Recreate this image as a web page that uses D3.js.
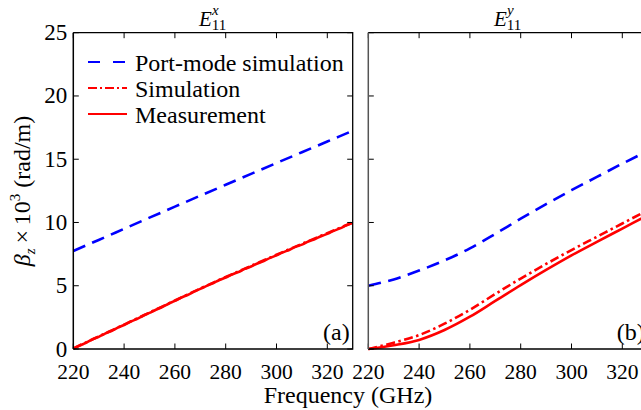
<!DOCTYPE html>
<html>
<head>
<meta charset="utf-8">
<script src="https://cdn.jsdelivr.net/npm/d3@7/dist/d3.min.js"></script>
<style>
  html, body { margin: 0; padding: 0; background: #fff; }
  svg text { font-family: "Liberation Serif", Times, "Times New Roman", "DejaVu Serif", serif; }
</style>
</head>
<body>
<svg id="chart" width="641" height="410"></svg>
<script>
// Frequency ticks (GHz) and propagation-constant ticks (x10^3 rad/m)
const xTicks = [220, 240, 260, 280, 300, 320];
const yTicks = [0, 5, 10, 15, 20, 25];
const freqDomain = [220, 330];
const betaDomain = [0, 25];

// E11^x mode
const freqA = [220, 230, 240, 250, 260, 270, 280, 290, 300, 310, 320, 330];
const portA = [7.75, 8.62, 9.5, 10.38, 11.25, 12.12, 12.98, 13.84, 14.7, 15.55, 16.4, 17.25];
const simA  = [0.05, 0.99, 1.93, 2.88, 3.83, 4.78, 5.69, 6.57, 7.45, 8.31, 9.16, 10.0];
const measFreqA = [220, 222.5, 225, 227.5, 230, 232.5, 235, 237.5, 240, 242.5, 245, 247.5, 250,
  252.5, 255, 257.5, 260, 262.5, 265, 267.5, 270, 272.5, 275, 277.5, 280, 282.5, 285, 287.5, 290,
  292.5, 295, 297.5, 300, 302.5, 305, 307.5, 310, 312.5, 315, 317.5, 320, 322.5, 325, 327.5, 330];
const measA = [0.0, 0.27, 0.49, 0.76, 0.96, 1.22, 1.42, 1.69, 1.9, 2.16, 2.37, 2.63, 2.85,
  3.1, 3.32, 3.58, 3.8, 4.06, 4.27, 4.53, 4.75, 4.99, 5.2, 5.45, 5.65, 5.89, 6.08, 6.33, 6.52,
  6.76, 6.96, 7.2, 7.4, 7.64, 7.83, 8.07, 8.25, 8.5, 8.68, 8.91, 9.1, 9.34, 9.53, 9.77, 9.97];

// E11^y mode
const freqB = [220, 230, 240, 250, 260, 270, 280, 290, 300, 310, 320, 330];
const portB = [5.0, 5.5, 6.2, 7.0, 7.95, 9.1, 10.3, 11.45, 12.55, 13.6, 14.65, 15.65];
const simB  = [0.0, 0.5, 1.1, 2.0, 3.1, 4.35, 5.57, 6.72, 7.82, 8.87, 9.92, 10.97];
const measB = [0.0, 0.3, 0.72, 1.5, 2.55, 3.8, 5.05, 6.25, 7.4, 8.47, 9.52, 10.57];

const legendLabels = ["Port-mode simulation", "Simulation", "Measurement"];

const BLUE = "#0000ff", RED = "#ff0000";
const DASH = "13,7.5", DASHDOT = "9,3.5,2.5,3.5";
const SERIF = "'Liberation Serif', Times, 'Times New Roman', 'DejaVu Serif', serif";

const svg = d3.select("#chart");
svg.append("rect").attr("width", 641).attr("height", 410).attr("fill", "#fff");

const addText = (sel) => sel.append("text").attr("font-family", SERIF).attr("fill", "#000");

const plotTop = 32.7, plotBottom = 349;
const y = d3.scaleLinear().domain(betaDomain).range([plotBottom, plotTop]);

function panel(x0, x1, title, label, series, showYLabels, leftEdgeColor) {
  const x = d3.scaleLinear().domain(freqDomain).range([x0, x1]);
  const g = svg.append("g");

  const line = (xs, ys) => d3.line()
    .x((d, i) => x(xs[i])).y(d => y(d))
    .curve(d3.curveMonotoneX)(ys);

  series.forEach(s => {
    g.append("path").attr("d", line(s.x, s.y))
      .attr("fill", "none").attr("stroke", s.color).attr("stroke-width", 2.6)
      .attr("stroke-dasharray", s.dash || null)
      .attr("stroke-linejoin", "round");
  });

  // Inward ticks on all four sides
  const tl = 5.5;
  xTicks.forEach(t => {
    g.append("line").attr("x1", x(t)).attr("x2", x(t)).attr("y1", plotBottom).attr("y2", plotBottom - tl)
      .attr("stroke", "#000").attr("stroke-width", 1);
    g.append("line").attr("x1", x(t)).attr("x2", x(t)).attr("y1", plotTop).attr("y2", plotTop + tl)
      .attr("stroke", "#000").attr("stroke-width", 1);
    addText(g).attr("x", x(t)).attr("y", 379).attr("text-anchor", "middle")
      .attr("font-size", 21.5).text(t);
  });
  yTicks.forEach(t => {
    g.append("line").attr("x1", x0).attr("x2", x0 + tl).attr("y1", y(t)).attr("y2", y(t))
      .attr("stroke", "#000").attr("stroke-width", 1);
    g.append("line").attr("x1", x1).attr("x2", x1 - tl).attr("y1", y(t)).attr("y2", y(t))
      .attr("stroke", "#000").attr("stroke-width", 1);
    if (showYLabels) {
      addText(g).attr("x", x0 - 6).attr("y", y(t) + 7.5).attr("text-anchor", "end")
        .attr("font-size", 23).text(t);
    }
  });

  // Frame: top, right, bottom in black; left edge drawn separately
  g.append("path")
    .attr("d", `M${x0},${plotTop}H${x1}V${plotBottom}H${x0}`)
    .attr("fill", "none").attr("stroke", "#000").attr("stroke-width", 1.3);
  g.append("line").attr("x1", x0).attr("x2", x0).attr("y1", plotTop).attr("y2", plotBottom)
    .attr("stroke", leftEdgeColor).attr("stroke-width", 1.5);

  // Mode title
  const cx = (x0 + x1) / 2;
  const tt = addText(g).attr("x", cx - 14).attr("y", 26).attr("font-size", 21);
  tt.append("tspan").attr("font-style", "italic").text("E");
  tt.append("tspan").attr("font-size", 15).attr("dy", 4).text("11");
  tt.append("tspan").attr("font-size", 15).attr("font-style", "italic")
    .attr("x", cx - 1).attr("dy", -15).text(title);

  // Panel tag
  addText(g).attr("x", x1 - 3).attr("y", 340).attr("text-anchor", "end")
    .attr("font-size", 24).text(label);
  return x;
}

panel(73.3, 352.7, "x", "(a)", [
  { x: freqA, y: portA, color: BLUE, dash: DASH },
  { x: measFreqA, y: measA, color: RED },
  { x: freqA, y: simA, color: RED, dash: DASHDOT }
], true, "#000");

panel(368.3, 647.7, "y", "(b)", [
  { x: freqB, y: portB, color: BLUE, dash: DASH },
  { x: freqB, y: simB, color: RED, dash: DASHDOT },
  { x: freqB, y: measB, color: RED }
], false, "#555");

// Legend
const legendStyles = [
  { color: BLUE, dash: "12,13", ly: 62 },
  { color: RED, dash: "9,3,2,3", ly: 88 },
  { color: RED, dash: null, ly: 114 }
];
legendLabels.forEach((lab, i) => {
  const s = legendStyles[i];
  svg.append("line").attr("x1", 88).attr("x2", 127).attr("y1", s.ly).attr("y2", s.ly)
    .attr("stroke", s.color).attr("stroke-width", 2)
    .attr("stroke-dasharray", s.dash);
  addText(svg).attr("x", 135).attr("y", s.ly + 8.5).attr("font-size", 24).text(lab);
});

// Axis titles
addText(svg).attr("x", 348).attr("y", 403).attr("text-anchor", "middle")
  .attr("font-size", 24).text("Frequency (GHz)");

const yl = addText(svg).attr("transform", "translate(30,191) rotate(-90)")
  .attr("text-anchor", "middle").attr("font-size", 24);
yl.append("tspan").attr("font-style", "italic").text("β");
yl.append("tspan").attr("font-style", "italic").attr("font-size", 15).attr("dy", 5).text("z");
yl.append("tspan").attr("dy", -5).text("\u2009×\u200910");
yl.append("tspan").attr("font-size", 15).attr("dy", -10).text("3");
yl.append("tspan").attr("dy", 10).text(" (rad/m)");
</script>
</body>
</html>
